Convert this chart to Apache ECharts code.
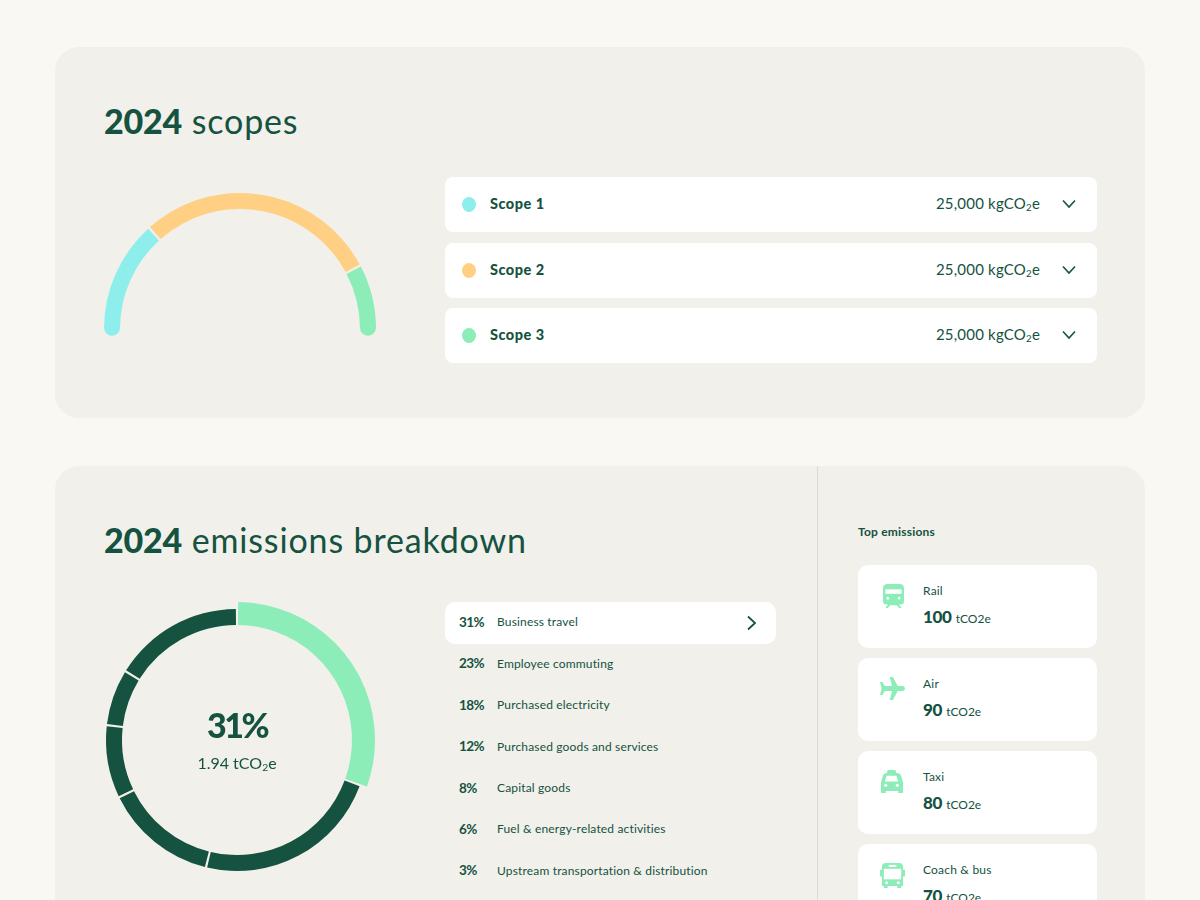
<!DOCTYPE html>
<html>
<head>
<meta charset="utf-8">
<title>2024 scopes</title>
<script src="https://cdn.jsdelivr.net/npm/echarts@6/dist/echarts.min.js"></script>
<style>
html,body{margin:0;padding:0;width:1200px;height:900px;overflow:hidden;background:#f9f8f3;color:#15523f;font-family:Lato,"Noto Sans",sans-serif;}
.card{position:absolute;left:55px;width:1090px;background:#f1f0eb;border-radius:24px;}
.abs{position:absolute;}
h2{position:absolute;left:104px;margin:0;font-size:34px;line-height:40px;font-weight:400;letter-spacing:.85px;}
h2 b{font-weight:900;letter-spacing:-.2px;}
sub{font-size:.65em;line-height:0;vertical-align:-.2em;}
.row{position:absolute;left:445px;width:652px;height:55px;background:#fff;border-radius:8px;}
.dot{position:absolute;left:17px;top:20px;width:14px;height:15px;border-radius:50%;}
.row .name{position:absolute;left:45px;top:0;line-height:53px;font-size:14.5px;font-weight:900;letter-spacing:.5px;}
.row .val{position:absolute;right:57px;top:0;line-height:53px;font-size:15px;letter-spacing:.2px;}
.row svg{position:absolute;left:617px;top:22px;}
.pct{position:absolute;left:459px;font-size:13.5px;font-weight:700;line-height:20px;letter-spacing:-.6px;}
.lbl{position:absolute;left:497px;font-size:12px;line-height:20px;letter-spacing:.16px;}
.hl{position:absolute;left:445px;top:602px;width:331px;height:42px;background:#fff;border-radius:10px;}
.tile{position:absolute;left:858px;width:239px;height:83px;background:#fff;border-radius:10px;}
.tile svg{position:absolute;}
.tile .t{position:absolute;left:65px;top:17px;font-size:12px;line-height:18px;letter-spacing:.2px;}
.tile .n{position:absolute;left:65px;top:40px;line-height:24px;font-size:17px;font-weight:900;letter-spacing:-.3px;}
.tile .n span{font-size:12px;font-weight:400;margin-left:4px;letter-spacing:0;}
</style>
</head>
<body>
<div class="card" style="top:47px;height:371px"></div>
<div class="card" style="top:466px;height:520px"></div>
<div class="abs" style="left:817px;top:466px;width:1px;height:434px;background:#dcdbd6"></div>
<h2 style="top:101px"><b>2024</b> scopes</h2>
<h2 style="top:520px"><b>2024</b> emissions breakdown</h2>
<div id="gauge" class="abs" style="left:90px;top:170px;width:300px;height:190px"></div>
<div id="ring" class="abs" style="left:90px;top:590px;width:300px;height:300px"></div>
<div class="abs" style="left:137px;top:703px;width:200px;text-align:center;font-size:34px;font-weight:900;line-height:44px;letter-spacing:-2.5px">31%</div>
<div class="abs" style="left:137px;top:752px;width:200px;text-align:center;font-size:16px;line-height:22px">1.94 tCO<sub>2</sub>e</div>
<div class="hl"></div>
<svg class="abs" style="left:746px;top:615px" width="12" height="16" viewBox="0 0 12 16"><path d="M2 1.5 L9 8 L2 14.5" fill="none" stroke="#15523f" stroke-width="1.8"/></svg>
<div class="abs" style="left:858px;top:523px;font-size:12px;line-height:18px;font-weight:700;letter-spacing:.2px">Top emissions</div>
<div id="rows"></div>
<div id="list"></div>
<div id="tiles"></div>
<script>
var scopeNames = ["Scope 1","Scope 2","Scope 3"];
var scopeArc = [51,103,31];
var scopeLabels = ["25,000","25,000","25,000"];
var scopeColors = ["#8eeeec","#ffd083","#8cedb8"];

var ringValues = [30.6,23.2,14,9,7,16.2];

var listPct = ["31%","23%","18%","12%","8%","6%","3%"];
var listNames = ["Business travel","Employee commuting","Purchased electricity","Purchased goods and services","Capital goods","Fuel & energy-related activities","Upstream transportation & distribution"];

var topNames = ["Rail","Air","Taxi","Coach & bus"];
var topValues = [100,90,80,70];

var dark = "#15523f", light = "#8cedb8";

var icons = {
	"Rail":{box:[25,19,21,24],view:"0 0 26 27",path:'<path d="M5 0h16a5 5 0 0 1 5 5v14a4 4 0 0 1-4 4H4a4 4 0 0 1-4-4V5a5 5 0 0 1 5-5z"/><path d="M7 22l-4 5h3l3-3h8l3 3h3l-4-5z"/><rect x="3" y="6" width="20" height="5" fill="#fff"/><circle cx="6" cy="16" r="1.6" fill="#fff"/><circle cx="20" cy="16" r="1.6" fill="#fff"/>'},
	"Air":{box:[22,19,25,23],view:"0 0 31 23",path:'<path d="M12 0h4l6 9h6c2 0 3 1.500 3 2.500S30 14 28 14h-6l-6 9h-4l3-9H6l-3 4H0l2-6.500L0 5h3l3 4h9z"/>'},
	"Taxi":{box:[23,19,23,23],view:"1 0 24 24",path:'<path d="M8 0h8l1 3h1c2 0 3 1 4 3l2 7v11h-5v-2H6v2H1V13l2-7c1-2 2-3 4-3h0z"/><path d="M7 6h10l2 6H5z" fill="#fff"/><circle cx="6" cy="16" r="1.600" fill="#fff"/><circle cx="18" cy="16" r="1.600" fill="#fff"/>'},
	"Coach & bus":{box:[22,19,25,25],view:"0 0 26 26",path:'<path d="M6 0h14c3 0 4 2 4 4v3h2v7h-2v10h-2v2h-4v-2H8v2H4v-2H2V14H0V7h2V4c0-2 1-4 4-4z"/><rect x="4" y="6" width="18" height="11" fill="#fff"/><rect x="9" y="2" width="8" height="2" fill="#fff"/><circle cx="7" cy="20.500" r="1.600" fill="#fff"/><circle cx="19" cy="20.500" r="1.600" fill="#fff"/>'}
};

var rowTops = [177,243,308];
var html = "";
for(var i=0;i<scopeNames.length;i++){
	html += "<div class='row' style='top:"+rowTops[i]+"px'>"
		+ "<div class='dot' style='background:"+scopeColors[i]+"'></div>"
		+ "<div class='name'>"+scopeNames[i]+"</div>"
		+ "<div class='val'>"+scopeLabels[i]+" kgCO<sub>2</sub>e</div>"
		+ "<svg width='14' height='10' viewBox='0 0 14 10'><path d='M1 1.500 L7 8 L13 1.500' fill='none' stroke='#15523f' stroke-width='1.600'/></svg>"
		+ "</div>";
}
document.getElementById("rows").innerHTML = html;

html = "";
for(var i=0;i<listPct.length;i++){
	var y = 612.4 + i*41.4;
	html += "<div class='pct' style='top:"+(y-0.5)+"px'>"+listPct[i]+"</div>"
		+ "<div class='lbl' style='top:"+y+"px'>"+listNames[i].replace("&","&amp;")+"</div>";
}
document.getElementById("list").innerHTML = html;

var tileTops = [565,658,751,844];
html = "";
for(var i=0;i<topNames.length;i++){
	var ic = icons[topNames[i]];
	html += "<div class='tile' style='top:"+tileTops[i]+"px'>"
		+ "<svg style='left:"+ic.box[0]+"px;top:"+ic.box[1]+"px' width='"+ic.box[2]+"' height='"+ic.box[3]+"' viewBox='"+ic.view+"' preserveAspectRatio='none' fill='"+light+"'>"+ic.path+"</svg>"
		+ "<div class='t'>"+topNames[i].replace("&","&amp;")+"</div>"
		+ "<div class='n'>"+topValues[i]+"<span>tCO2e</span></div>"
		+ "</div>";
}
document.getElementById("tiles").innerHTML = html;

// gauge: round caps only on the two outer ends
var gaugeData = [];
for(var i=0;i<scopeNames.length;i++){
	var rad = i==0 ? [8,0,8,0] : (i==2 ? [0,8,0,8] : 0);
	gaugeData.push({name:scopeNames[i],value:scopeArc[i],itemStyle:{color:scopeColors[i],borderRadius:rad}});
}
var gauge = echarts.init(document.getElementById("gauge"));
gauge.setOption({
	animation:false,
	series:[{
		type:"pie",
		center:[150,159],
		radius:[120,136],
		startAngle:183.5,
		endAngle:-3.5,
		padAngle:1,
		silent:true,
		label:{show:false},
		labelLine:{show:false},
		data:gaugeData
	}]
});

// ring: the first slice stands out, so it gets its own wider series
var darkData = [], lightData = [];
for(var i=0;i<ringValues.length;i++){
	darkData.push({value:ringValues[i],itemStyle:{color:i==0?"transparent":dark}});
	lightData.push({value:ringValues[i],itemStyle:{color:i==0?light:"transparent"}});
}
var ring = echarts.init(document.getElementById("ring"));
ring.setOption({
	animation:false,
	series:[
		{type:"pie",center:[147,150],radius:[115,131],startAngle:90,padAngle:1,silent:true,label:{show:false},labelLine:{show:false},data:darkData},
		{type:"pie",center:[147,150],radius:[115,138],startAngle:90,padAngle:1,silent:true,label:{show:false},labelLine:{show:false},data:lightData}
	]
});
</script>
</body>
</html>
